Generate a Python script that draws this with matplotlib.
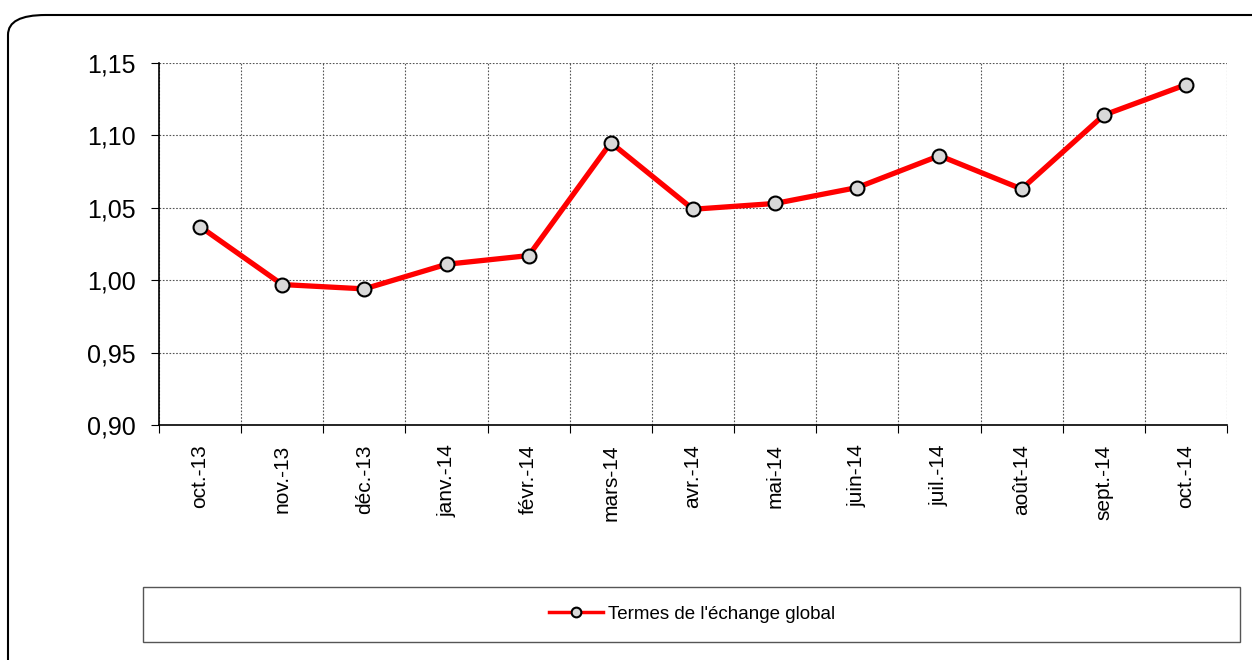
import numpy as np
import matplotlib
matplotlib.use('Agg')
import matplotlib.pyplot as plt
from matplotlib.patches import FancyBboxPatch, Rectangle
from matplotlib.ticker import FuncFormatter

plt.rcParams['font.family'] = ['Liberation Sans', 'DejaVu Sans']

# data
months = ['oct.-13', 'nov.-13', 'déc.-13', 'janv.-14', 'févr.-14', 'mars-14', 'avr.-14',
          'mai-14', 'juin-14', 'juil.-14', 'août-14', 'sept.-14', 'oct.-14']
termes = [1.037, 0.997, 0.994, 1.011, 1.017, 1.095, 1.049,
          1.053, 1.064, 1.086, 1.063, 1.114, 1.135]
y_ticks = [0.90, 0.95, 1.00, 1.05, 1.10, 1.15]

fig = plt.figure(figsize=(12.52, 6.6), dpi=100)

# rounded outer frame
frame = FancyBboxPatch((8/1252, -0.05), 1.05, 1 - 15/660 + 0.05,
                       boxstyle="round,pad=0,rounding_size=0.03",
                       transform=fig.transFigure, fill=False,
                       edgecolor='black', linewidth=1.5, clip_on=False)
fig.patches.append(frame)

ax = fig.add_axes([159/1252, 1 - 425/660, (1227 - 159)/1252, (425 - 63)/660])

x = np.arange(len(months))
ax.plot(x, termes, color='#ff0000', linewidth=3.8, marker='o', markersize=10,
        markerfacecolor='#d9d9d9', markeredgecolor='black', markeredgewidth=1.5,
        label="Termes de l'échange global", zorder=3)

ax.set_xlim(-0.5, len(months) - 0.5)
ax.set_ylim(0.90, 1.15)

ax.set_xticks(np.arange(-0.5, len(months)), labels=[''] * (len(months) + 1))
ax.set_xticks(x, labels=months, minor=True)
ax.tick_params(axis='x', which='major', length=6, width=0.8)
ax.tick_params(axis='x', which='minor', length=0, labelrotation=90, labelsize=15, pad=14)
ax.set_yticks(y_ticks)
ax.yaxis.set_major_formatter(FuncFormatter(lambda v, p: f'{v:.2f}'.replace('.', ',')))
ax.tick_params(axis='y', length=6, width=0.8, labelsize=18, pad=11)

ax.grid(True, which='major', color='#555555', linestyle=(0, (1.5, 1.5)), linewidth=0.8)
ax.set_axisbelow(True)
for s in ['top', 'right']:
    ax.spines[s].set_visible(False)
for s in ['left', 'bottom']:
    ax.spines[s].set_linewidth(1.2)

# legend box at bottom
fig.patches.append(Rectangle((143/1252, 1 - 642/660), (1240 - 143)/1252, 55/660,
                             transform=fig.transFigure, fill=False,
                             edgecolor='#555555', linewidth=1))
leg = fig.legend(loc='center', bbox_to_anchor=(692/1252, 1 - 614/660), frameon=False,
                 fontsize=13.5, handlelength=2.9, handletextpad=0.27)
for h in leg.legend_handles:
    h.set_linewidth(2.5)
    h.set_markersize(7)

fig.savefig('out.png', dpi=100)
